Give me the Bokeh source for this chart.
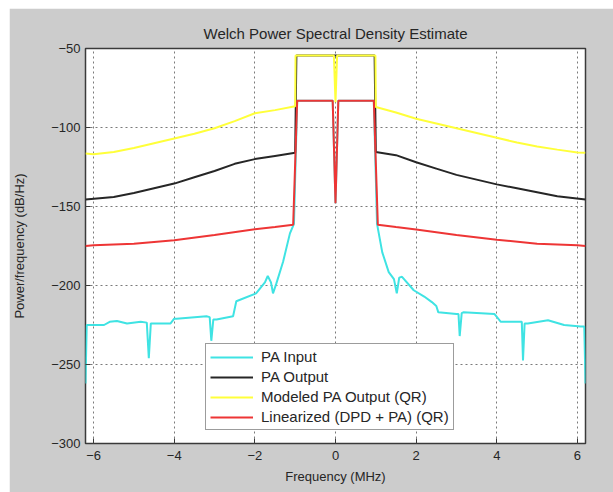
from bokeh.plotting import figure
from bokeh.models import Range1d, FixedTicker, Legend, LegendItem, Spacer
from bokeh.layouts import row, column
from bokeh.embed import file_html
from bokeh.resources import INLINE

# ---------------- data ----------------
x_ticks = [-6, -4, -2, 0, 2, 4, 6]
y_ticks = [-300, -250, -200, -150, -100, -50]

pa_in_freq = [-6.2, -6.17, -6.1, -5.74, -5.6, -5.42, -5.17, -4.83, -4.68, -4.63, -4.58, -4.5,
              -4.09, -4.0, -3.94, -3.2, -3.12, -3.08, -3.03, -2.95, -2.54, -2.46, -1.97, -1.75,
              -1.68, -1.6, -1.55, -1.47, -1.3, -1.13, -1.03, -0.95, -0.07, 0.0, 0.07, 0.95,
              1.03, 1.16, 1.32, 1.45, 1.52, 1.58, 1.65, 1.94, 2.2, 2.39, 2.5, 2.55, 3.0, 3.05,
              3.08, 3.13, 3.17, 3.94, 4.1, 4.56, 4.62, 4.65, 4.69, 4.77, 5.27, 5.67, 6.08, 6.17, 6.2]
pa_in_db = [-262, -225, -225, -225, -223, -222.5, -224, -223, -223.5, -246, -224, -224,
            -224, -221, -221, -219.5, -220, -235, -221.5, -221.5, -219.5, -210, -205, -198,
            -194, -198, -205, -199, -185, -167, -161, -83, -83, -148, -83, -83,
            -161, -179, -191.5, -196, -205, -195, -194.5, -203, -207, -210.5, -213, -217, -218, -218,
            -232, -217.5, -217, -218, -223, -223, -223, -247.5, -224, -224, -222, -225, -226, -226, -262]

pa_out_freq = [-6.2, -5.5, -5.0, -4.5, -4.0, -3.5, -3.0, -2.5, -2.0, -1.5, -1.0, -0.97,
               0.97, 1.0, 1.5, 2.0, 2.5, 3.0, 3.5, 4.0, 4.5, 5.0, 5.5, 6.2]
pa_out_db = [-145.5, -144, -141.5, -138.5, -135.5, -131.5, -127.5, -123, -120, -118, -116, -54.5,
             -54.5, -115.5, -117.5, -122, -126, -130, -133, -136, -138.5, -141, -143.5, -145.5]

model_freq = [-6.2, -6.0, -5.5, -5.0, -4.5, -4.0, -3.5, -3.0, -2.5, -2.0, -1.5, -1.0, -0.99,
              -0.04, 0.0, 0.04, 0.99, 1.0, 1.5, 2.0, 2.5, 3.0, 3.5, 4.0, 4.5, 5.0, 5.5, 6.0, 6.2]
model_db = [-116.5, -117, -115.5, -113, -110, -107, -104, -100.5, -96, -91, -89, -86.5, -54.5,
            -54.5, -84, -54.5, -54.5, -87, -90.5, -94.5, -97.5, -100.5, -103.5, -106.5, -109.5,
            -112, -114, -115.8, -116]

lin_freq = [-6.2, -6.0, -5.0, -4.0, -3.0, -2.0, -1.5, -1.05, -0.95, -0.07, 0.0, 0.07, 0.95,
            1.05, 1.5, 2.0, 3.0, 4.0, 5.0, 6.0, 6.2]
lin_db = [-175, -174.6, -173.5, -171.4, -168, -164.4, -163, -161.5, -83, -83, -148, -83, -83,
          -161.5, -163, -164.6, -168, -171, -173.5, -174.6, -175]

series_names = ["PA Input", "PA Output", "Modeled PA Output (QR)", "Linearized (DPD + PA) (QR)"]
series_colors = ["#3fe3e3", "#262626", "#ffff3a", "#ee3535"]

# ---------------- figure ----------------
FONT = "Liberation Sans"
BG = "#cccccc"
TXT = "#262626"

p = figure(width=604, height=484, output_backend="svg", toolbar_location=None,
           x_range=Range1d(-6.2, 6.2), y_range=Range1d(-300, -50),
           title="Welch Power Spectral Density Estimate",
           min_border_left=74, min_border_right=28, min_border_top=40, min_border_bottom=49)

p.background_fill_color = "white"
p.border_fill_color = BG
p.outline_line_color = "#3a3a3a"
p.outline_line_width = 1.5

p.title.align = "center"
p.title.text_font = FONT
p.title.text_font_size = "15px"
p.title.text_font_style = "normal"
p.title.text_color = TXT
p.title.offset = 0
p.title.standoff = 13

for ax, ticks in ((p.xaxis[0], x_ticks), (p.yaxis[0], y_ticks)):
    ax.ticker = FixedTicker(ticks=ticks)
    ax.major_tick_in = 5
    ax.major_tick_out = 0
    ax.minor_tick_line_color = None
    ax.axis_line_color = None
    ax.major_tick_line_color = "#3a3a3a"
    ax.major_label_text_font = FONT
    ax.major_label_text_font_size = "13px"
    ax.major_label_text_color = TXT
    ax.axis_label_text_font = FONT
    ax.axis_label_text_font_size = "13px"
    ax.axis_label_text_font_style = "normal"
    ax.axis_label_text_color = TXT

p.xaxis.axis_label = "Frequency (MHz)"
p.yaxis.axis_label = "Power/frequency (dB/Hz)"
p.xaxis.major_label_standoff = 7
p.xaxis.axis_label_standoff = 6
p.yaxis.major_label_standoff = 5
p.yaxis.axis_label_standoff = 21

p.xgrid.ticker = FixedTicker(ticks=x_ticks)
p.ygrid.ticker = FixedTicker(ticks=y_ticks)
p.grid.grid_line_color = "#7a7a7a"
p.grid.grid_line_dash = "2 3"
p.grid.grid_line_width = 1

renderers = []
for f, d, c in ((pa_in_freq, pa_in_db, series_colors[0]),
                (pa_out_freq, pa_out_db, series_colors[1]),
                (model_freq, model_db, series_colors[2]),
                (lin_freq, lin_db, series_colors[3])):
    renderers.append(p.line(f, d, line_color=c, line_width=2))

legend = Legend(items=[LegendItem(label=n, renderers=[r]) for n, r in zip(series_names, renderers)],
                location=(120, 13))
legend.label_text_font = FONT
legend.label_text_font_size = "15px"
legend.label_text_color = TXT
legend.glyph_width = 43
legend.glyph_height = 16
legend.label_height = 16
legend.label_standoff = 8
legend.spacing = 3
legend.padding = 4
legend.margin = 0
legend.border_line_color = "#3a3a3a"
legend.border_line_width = 1
legend.background_fill_color = "white"
legend.background_fill_alpha = 1
p.add_layout(legend)

layout = column(Spacer(width=613, height=8), row(Spacer(width=9, height=484), p))

open("out.html", "w").write(file_html(layout, INLINE))
